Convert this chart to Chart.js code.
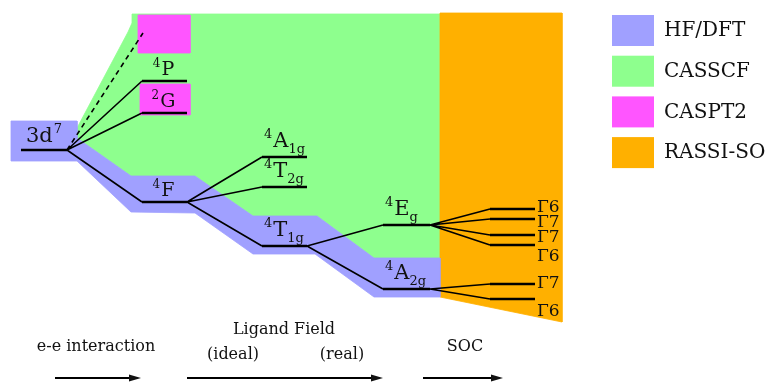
<!DOCTYPE html>
<html>
<head>
<meta charset="utf-8">
<script src="https://cdn.jsdelivr.net/npm/chart.js@4.4.1/dist/chart.umd.min.js"></script>
<style>
  html, body { margin: 0; padding: 0; background: #ffffff; overflow: hidden; }
  canvas { display: block; }
</style>
</head>
<body>
<canvas id="diagram" width="767" height="383"></canvas>
<script>
// ---- Term levels of a d7 ion: e-e interaction -> ligand field -> spin-orbit coupling ----
// Energies in arbitrary diagram units (higher = less stable).
const levelLabel  = ['3d^7', '^4P', '^2G', '^4F', '^4A_1g', '^4T_2g', '^4T_1g', '^4E_g', '^4A_2g',
                     'Γ6', 'Γ7', 'Γ7', 'Γ6', 'Γ7', 'Γ6'];
const levelEnergy = [233, 302, 270, 181, 226, 196, 137, 158, 94, 174, 164, 148, 138, 99, 84];
const levelParent = [-1, 0, 0, 0, 3, 3, 3, 6, 6, 7, 7, 7, 7, 8, 8];
const levelStage  = [0, 1, 1, 1, 2, 2, 2, 3, 3, 4, 4, 4, 4, 4, 4];
const caspt2Guide = 350;   // upper end of the dashed CASPT2 guide from the free ion

const methodNames = ['HF/DFT', 'CASSCF', 'CASPT2', 'RASSI-SO'];
const processNames = ['e-e interaction', 'Ligand Field', 'SOC'];
const ligandFieldCases = ['(ideal)', '(real)'];

// ---- layout ----
const stageSpan = [[21, 67], [142, 187], [262, 307], [383, 430], [490, 535]];
const methodColor = ['#a0a0ff', '#8eff8e', '#ff55ff', '#ffb000'];

// region outlines (x, energy) for the method that treats each part of the diagram
const methodRegions = [
  { method: 1, pts: [[132,369],[440,369],[440,125],[374,125],[317,167],[253,167],[195,207],[131,207],
                     [77,245],[77,255],[128,351],[132,360]] },
  { method: 2, pts: [[138,368],[190,368],[190,330],[138,330]] },
  { method: 2, pts: [[140,299],[190,299],[190,268],[140,268]] },
  { method: 3, pts: [[440,370],[562,370],[562,61],[440,86]] },
  { method: 0, pts: [[11,262],[77,262],[77,245],[131,207],[195,207],[253,167],[317,167],[374,125],
                     [440,125],[440,86],[374,86],[315,129],[253,129],[195,170],[131,171],[77,222],[11,222]] }
];
const gammaLabelShift = [-3, 2, 1, 10, -2, 11];
const processArrows = [[55, 140], [187, 382], [423, 502]];
const arrowLevel = 5;

// ---- datasets ----
const datasets = [];
methodRegions.forEach((r, i) => {
  const pts = r.pts.concat([r.pts[0]]).map(p => ({ x: p[0], y: p[1] }));
  datasets.push({
    data: pts, showLine: true, fill: 'shape',
    backgroundColor: methodColor[r.method], borderColor: methodColor[r.method],
    borderWidth: 0.8, pointRadius: 0, order: 20 - i
  });
});

const levelPts = [];
const linkPts = [];
levelEnergy.forEach((e, i) => {
  const [x0, x1] = stageSpan[levelStage[i]];
  levelPts.push({ x: x0, y: e }, { x: x1, y: e }, { x: x1, y: null });
  const p = levelParent[i];
  if (p >= 0) {
    linkPts.push({ x: stageSpan[levelStage[p]][1], y: levelEnergy[p] }, { x: x0, y: e }, { x: x0, y: null });
  }
});
datasets.push({ data: linkPts, showLine: true, spanGaps: false, borderColor: '#000', borderWidth: 1.6,
                pointRadius: 0, order: 3 });
datasets.push({ data: levelPts, showLine: true, spanGaps: false, borderColor: '#000', borderWidth: 2.6,
                pointRadius: 0, order: 2, borderCapStyle: 'butt' });
datasets.push({ data: [{ x: stageSpan[0][1], y: levelEnergy[0] }, { x: stageSpan[1][0] + 1, y: caspt2Guide }],
                showLine: true, borderColor: '#000', borderWidth: 1.6, borderDash: [5, 4],
                pointRadius: 0, order: 3 });
const arrowStart = datasets.length;
processArrows.forEach(a => {
  datasets.push({ data: [{ x: a[0], y: arrowLevel }, { x: a[1] - 8, y: arrowLevel }], showLine: true,
                  borderColor: '#000', borderWidth: 1.8, pointRadius: 0, order: 1, isArrow: true });
});

// ---- text helpers ----
const SERIF = '"DejaVu Serif", "Liberation Serif", serif';
function drawTerm(ctx, label, x, y, size, align) {
  const m = label.match(/^(?:\^(\w))?([^_^]+)(?:\^(\w+))?(?:_(\w+))?$/);
  const pre = m[1], main = m[2], post = m[3], sub = m[4];
  const small = Math.round(size * 0.64);
  const font = s => s + 'px ' + SERIF;
  ctx.font = font(small);
  const wPre = pre ? ctx.measureText(pre).width + 1 : 0;
  const wPost = post ? ctx.measureText(post).width + 1 : 0;
  const wSub = sub ? ctx.measureText(sub).width : 0;
  ctx.font = font(size);
  const wMain = ctx.measureText(main).width;
  const total = wPre + wMain + Math.max(wPost, wSub);
  let cx = align === 'center' ? x - total / 2 : x;
  ctx.textAlign = 'left';
  ctx.textBaseline = 'alphabetic';
  if (pre) { ctx.font = font(small); ctx.fillText(pre, cx, y - size * 0.42); cx += wPre; }
  ctx.font = font(size); ctx.fillText(main, cx, y); cx += wMain;
  if (post) { ctx.font = font(small); ctx.fillText(post, cx + 1, y - size * 0.42); }
  if (sub) { ctx.font = font(small); ctx.fillText(sub, cx, y + size * 0.3); }
}

const annotations = {
  id: 'annotations',
  afterDatasetsDraw(chart) {
    const ctx = chart.ctx;
    const xs = chart.scales.x, ys = chart.scales.y;
    ctx.save();
    ctx.fillStyle = '#111';

    // arrowheads on the process arrows
    chart.data.datasets.forEach((ds, i) => {
      if (!ds.isArrow) return;
      const end = chart.getDatasetMeta(i).data[1];
      ctx.beginPath();
      ctx.moveTo(end.x - 3, end.y - 3.5);
      ctx.lineTo(end.x + 9, end.y);
      ctx.lineTo(end.x - 3, end.y + 3.5);
      ctx.closePath();
      ctx.fill();
    });

    // term labels
    let g = 0;
    levelLabel.forEach((lab, i) => {
      const st = levelStage[i];
      const [x0, x1] = stageSpan[st];
      const py = ys.getPixelForValue(levelEnergy[i]);
      if (st === 0) drawTerm(ctx, lab, xs.getPixelForValue(x0) + 5, py - 8, 21, 'left');
      else if (st === 1) drawTerm(ctx, lab, xs.getPixelForValue((x0 + x1) / 2) - 1, py - 6, 19, 'center');
      else if (st === 2 || st === 3) drawTerm(ctx, lab, xs.getPixelForValue(x0) + 2, py - 10, 21, 'left');
      else {
        const cy = py + gammaLabelShift[g++];
        drawTerm(ctx, lab, xs.getPixelForValue(x1) + 2, cy + 6, 17, 'left');
      }
    });

    // process captions
    ctx.font = '16px ' + SERIF;
    ctx.textAlign = 'center';
    ctx.textBaseline = 'middle';
    ctx.fillText(processNames[0], 96, 347);
    ctx.fillText(processNames[1], 284, 330);
    ctx.fillText(ligandFieldCases[0], 233, 355);
    ctx.fillText(ligandFieldCases[1], 342, 355);
    ctx.fillText(processNames[2], 465, 347);

    // method key
    methodNames.forEach((name, i) => {
      const top = 15 + i * 40.7;
      ctx.fillStyle = methodColor[i];
      ctx.fillRect(612, top, 42, 31);
      ctx.fillStyle = '#111';
      ctx.font = '20px ' + SERIF;
      ctx.textAlign = 'left';
      ctx.textBaseline = 'middle';
      ctx.fillText(name, 664, top + 16);
    });
    ctx.restore();
  }
};

new Chart(document.getElementById('diagram'), {
  type: 'scatter',
  data: { datasets },
  options: {
    responsive: false,
    animation: false,
    devicePixelRatio: 1,
    layout: { padding: 0 },
    scales: {
      x: { type: 'linear', min: 0, max: 767, display: false },
      y: { type: 'linear', min: 0, max: 383, display: false }
    },
    plugins: { legend: { display: false }, tooltip: { enabled: false } },
    elements: { line: { tension: 0 } }
  },
  plugins: [annotations]
});
</script>
</body>
</html>
